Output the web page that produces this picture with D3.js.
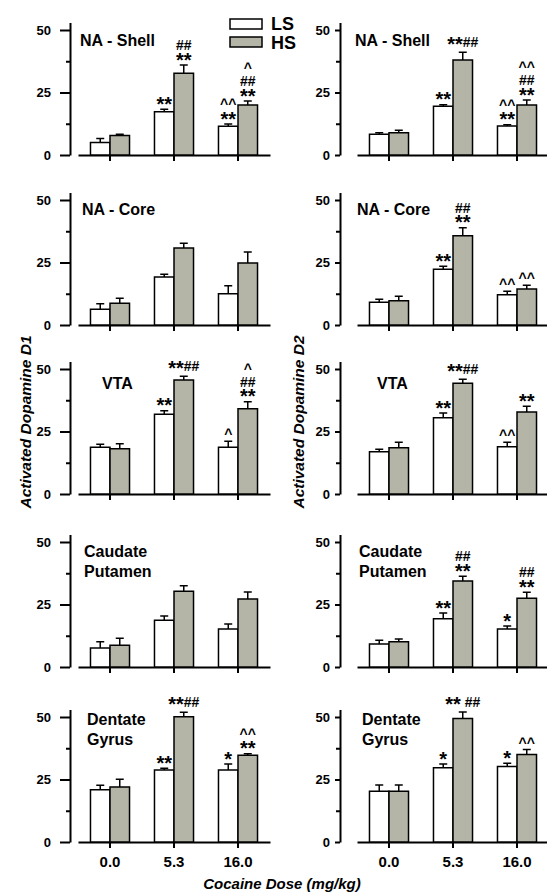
<!DOCTYPE html>
<html>
<head>
<meta charset="utf-8">
<script src="https://cdn.jsdelivr.net/npm/d3@7"></script>
<style>
  body { margin: 0; background: #fff; }
  text { font-family: "Liberation Sans", Arial, sans-serif; font-weight: bold; }
</style>
</head>
<body>
<svg id="chart"></svg>
<script>
// data
const doses = ["0.0", "5.3", "16.0"];
const groups = ["LS", "HS"];
const regions = ["NA - Shell", "NA - Core", "VTA", "Caudate\nPutamen", "Dentate\nGyrus"];

// D1 (left column), rows = regions, columns = doses
const d1LS    = [[5.0, 17.3, 11.5], [6.3, 19.2, 12.5], [18.7, 31.9, 18.7], [7.6, 18.7, 15.2], [20.9, 28.8, 28.8]];
const d1LSerr = [[1.6, 1.0, 0.9], [2.2, 1.1, 3.2], [1.2, 1.4, 2.4], [2.5, 1.7, 2.0], [1.8, 0.7, 2.4]];
const d1HS    = [[7.8, 32.7, 20.0], [8.7, 30.8, 24.8], [18.1, 45.6, 34.1], [8.7, 30.3, 27.2], [22.0, 50.1, 34.7]];
const d1HSerr = [[0.5, 3.3, 1.6], [2.0, 1.9, 4.4], [2.0, 1.5, 2.8], [2.8, 2.2, 2.8], [3.1, 1.8, 0.6]];
// D2 (right column)
const d2LS    = [[8.3, 19.5, 11.6], [9.1, 22.3, 12.1], [16.9, 30.5, 18.9], [9.2, 19.3, 15.2], [20.3, 29.7, 30.2]];
const d2LSerr = [[0.6, 0.6, 0.5], [1.2, 1.2, 1.4], [1.0, 1.9, 1.8], [1.5, 2.3, 1.2], [2.5, 1.5, 1.3]];
const d2HS    = [[8.9, 38.0, 20.0], [9.7, 35.7, 14.4], [18.5, 44.3, 32.8], [10.1, 34.4, 27.5], [20.3, 49.4, 35.0]];
const d2HSerr = [[1.0, 3.1, 2.0], [1.8, 3.2, 1.5], [2.2, 1.6, 2.3], [1.1, 1.9, 2.4], [2.5, 2.6, 2.0]];

// significance marks (lines top to bottom)
const d1LSmark = [["", "**", "^^\n**"], ["", "", ""], ["", "**", "^"], ["", "", ""], ["", "**", "*"]];
const d1HSmark = [["", "##\n**", "^\n##\n**"], ["", "", ""], ["", "**##", "^\n##\n**"], ["", "", ""], ["", "**##", "^^\n**"]];
const d2LSmark = [["", "**", "^^\n**"], ["", "**", "^^"], ["", "**", "^^"], ["", "**", "*"], ["", "*", "*"]];
const d2HSmark = [["", "**##", "^^\n##\n**"], ["", "##\n**", "^^"], ["", "**##", "**"], ["", "##\n**", "##\n**"], ["", "** ##", "^^"]];

const W = 547, H = 893;
const grey = "#b4b4a7";
const lineGap = 13;

const svg = d3.select("#chart").attr("width", W).attr("height", H);
svg.append("rect").attr("width", W).attr("height", H).attr("fill", "#fff");

// layout
const rowZero = [155, 325, 494, 667, 842];
const labelDx = [0, 2, 22, 4, 7];
const labelUp = [109, 110, 105, 110, 117];

const cols = [
  { x0: 78, axisX: 70, tick: 10, pad: 9, adj: 2,
    LS: d1LS, LSerr: d1LSerr, HS: d1HS, HSerr: d1HSerr, LSmark: d1LSmark, HSmark: d1HSmark },
  { x0: 357, axisX: 340, tick: 5, pad: 5, adj: -2,
    LS: d2LS, LSerr: d2LSerr, HS: d2HS, HSerr: d2HSerr, LSmark: d2LSmark, HSmark: d2HSmark }
];

// one text per stack of marks; asterisks drawn bigger and a bit lower
const addMark = (g, cx, base, mark) => {
  const lines = mark.split("\n");
  const t = g.append("text").attr("x", cx).attr("y", base - (lines.length - 1) * lineGap)
    .attr("text-anchor", "middle").attr("font-size", 14);
  let shift = 0;
  lines.forEach((line, j) => {
    line.match(/(\*+|[^*]+)/g).forEach((run, q) => {
      const star = run[0] === "*";
      const want = star ? 3.5 : 0;
      const ts = t.append("tspan").attr("dy", (j > 0 && q === 0 ? lineGap : 0) + want - shift).text(run);
      if (q === 0) ts.attr("x", cx);
      if (star) ts.attr("font-size", 20);
      shift = want;
    });
  });
};

cols.forEach(c => {
  const x = d3.scaleBand().domain(doses).range([c.x0, c.x0 + 192])
    .paddingInner(0.39).paddingOuter(0.195);
  const xg = d3.scaleBand().domain(groups).range([0, x.bandwidth()]);

  rowZero.forEach((z, r) => {
    const y = d3.scaleLinear().domain([0, 53]).range([z, z - 132.5]);
    const g = svg.append("g");

    // y axis, major + minor ticks
    const ya = g.append("g").attr("transform", `translate(${c.axisX},0)`)
      .call(d3.axisLeft(y).tickValues([0, 25, 50]).tickSize(c.tick).tickSizeOuter(0).tickPadding(c.pad));
    ya.selectAll("text").attr("font-size", 13).attr("font-family", null);
    g.append("g").attr("transform", `translate(${c.axisX},0)`)
      .call(d3.axisLeft(y).tickValues([12.5, 37.5]).tickSize(4).tickFormat(""))
      .select(".domain").remove();

    // x axis
    const xa = g.append("g").attr("transform", `translate(0,${z})`)
      .call(d3.axisBottom(x).tickSize(6).tickSizeOuter(0).tickPadding(8)
        .tickFormat(r === rowZero.length - 1 ? d => d : ""));
    xa.selectAll("text").attr("font-size", 15).attr("font-family", null);

    g.selectAll(".domain, .tick line").attr("stroke", "#000").attr("stroke-width", 2);
    g.selectAll(".tick text").attr("fill", "#000");

    // bars
    doses.forEach((d, i) => {
      groups.forEach(k => {
        const v = c[k][r][i], e = c[k + "err"][r][i];
        const bx = x(d) + xg(k), bw = xg.bandwidth(), cx = bx + bw / 2;
        g.append("line").attr("x1", cx).attr("x2", cx).attr("y1", y(v)).attr("y2", y(v + e))
          .attr("stroke", "#000").attr("stroke-width", 1.5);
        g.append("line").attr("x1", cx - 4).attr("x2", cx + 4).attr("y1", y(v + e)).attr("y2", y(v + e))
          .attr("stroke", "#000").attr("stroke-width", 1.5);
        g.append("rect").attr("x", bx).attr("y", y(v)).attr("width", bw).attr("height", y(0) - y(v))
          .attr("fill", k === "LS" ? "#fff" : grey).attr("stroke", "#000").attr("stroke-width", 1.5);

        const mark = c[k + "mark"][r][i];
        if (mark) {
          const last = mark.split("\n").pop();
          addMark(g, cx, y(v + e) - (last.includes("#") ? 5 : 2), mark);
        }
      });
    });

    // region label
    regions[r].split("\n").forEach((t, j) => {
      g.append("text").attr("x", c.x0 + labelDx[r] + c.adj).attr("y", z - labelUp[r] + j * 20)
        .attr("font-size", 16).text(t);
    });
  });
});

// legend
groups.forEach((k, i) => {
  svg.append("rect").attr("x", 230).attr("y", 19 + i * 18).attr("width", 32).attr("height", 10)
    .attr("fill", k === "LS" ? "#fff" : grey).attr("stroke", "#000").attr("stroke-width", 1.5);
  svg.append("text").attr("x", 271).attr("y", 30 + i * 19).attr("font-size", 18).text(k);
});

// axis titles
svg.append("text").attr("transform", "translate(31,422) rotate(-90)").attr("text-anchor", "middle")
  .attr("font-size", 15.5).attr("font-style", "italic").text("Activated Dopamine D1");
svg.append("text").attr("transform", "translate(304,422) rotate(-90)").attr("text-anchor", "middle")
  .attr("font-size", 15.5).attr("font-style", "italic").text("Activated Dopamine D2");
svg.append("text").attr("x", 282).attr("y", 889).attr("text-anchor", "middle")
  .attr("font-size", 15).attr("font-style", "italic").text("Cocaine Dose (mg/kg)");
</script>
</body>
</html>
